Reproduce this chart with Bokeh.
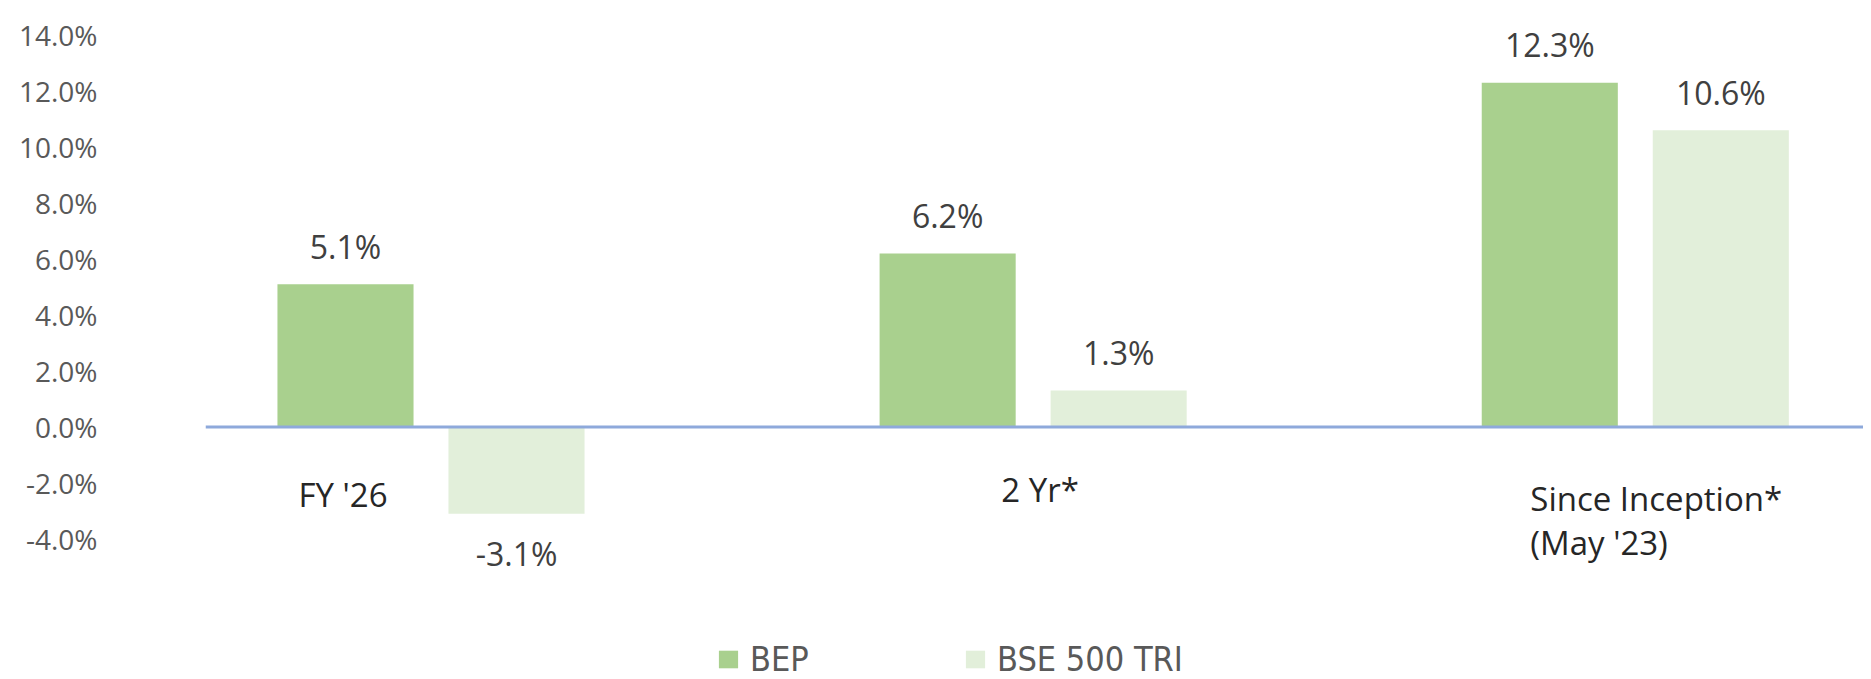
from bokeh.plotting import figure
from bokeh.models import ColumnDataSource, FixedTicker, Span, Legend, LegendItem, Range1d
from bokeh.core.properties import value
from bokeh.embed import file_html
from bokeh.resources import INLINE

# ---- data ----
categories = ["FY '26", "2 Yr*", "Since Inception*\n(May '23)"]
bep = [5.1, 6.2, 12.3]
bse = [-3.1, 1.3, 10.6]
series_names = ["BEP", "BSE 500 TRI"]
y_ticks = [-4, -2, 0, 2, 4, 6, 8, 10, 12, 14]
y_tick_labels = ["-4.0%", "-2.0%", "0.0%", "2.0%", "4.0%", "6.0%", "8.0%", "10.0%", "12.0%", "14.0%"]

# ---- styles ----
C_BEP = "#A9D08E"
C_BSE = "#E2EFDA"
C_ZERO = "#8EA9DB"
OFF = 0.142
BAR_W = 0.226

idx = list(range(len(categories)))

p = figure(width=1863, height=679,
           x_range=Range1d(-0.3745, 2.379), y_range=Range1d(-9.02, 14.95),
           output_backend="svg", toolbar_location=None, x_axis_location=None,
           min_border_left=205, min_border_right=0, min_border_top=8, min_border_bottom=0)
p.outline_line_color = None
p.xgrid.visible = False
p.ygrid.visible = False
p.background_fill_color = "white"
p.border_fill_color = "white"

ax = p.yaxis[0]
ax.ticker = FixedTicker(ticks=y_ticks)
ax.major_label_overrides = {t: l for t, l in zip(y_ticks, y_tick_labels)}
ax.axis_line_color = None
ax.major_tick_line_color = None
ax.minor_tick_line_color = None
ax.major_tick_out = 0
ax.major_tick_in = 0
ax.major_label_standoff = 108
ax.major_label_text_font = "Open Sans"
ax.major_label_text_font_size = "28px"
ax.major_label_text_color = "#595959"

src_bep = ColumnDataSource(dict(x=[i - OFF for i in idx], top=bep,
                                lab=[f"{v:.1f}%" for v in bep],
                                yo=[-38 if v >= 0 else 40 for v in bep]))
src_bse = ColumnDataSource(dict(x=[i + OFF for i in idx], top=bse,
                                lab=[f"{v:.1f}%" for v in bse],
                                yo=[-38 if v >= 0 else 40 for v in bse]))

r_bep = p.vbar(x="x", top="top", bottom=0, width=BAR_W, source=src_bep,
               fill_color=C_BEP, line_color=None)
r_bse = p.vbar(x="x", top="top", bottom=0, width=BAR_W, source=src_bse,
               fill_color=C_BSE, line_color=None)

p.add_layout(Span(location=0, dimension="width", line_color=C_ZERO, line_width=3))

for s in (src_bep, src_bse):
    p.text(x="x", y="top", text="lab", source=s, y_offset="yo",
           text_align="center", text_baseline="alphabetic",
           text_font=value("Open Sans"), text_font_size="32px", text_color="#404040")

# category labels
cat_src_c = ColumnDataSource(dict(x=idx[:2], y=[0, 0], text=categories[:2],
                                  xo=[-88, 7], yo=[45, 40]))
p.text(x="x", y="y", text="text", source=cat_src_c, x_offset="xo", y_offset="yo",
       text_align="center", text_baseline="top",
       text_font=value("Open Sans"), text_font_size="33px", text_color="#262626")
cat_src_l = ColumnDataSource(dict(x=idx[2:], y=[0], text=categories[2:],
                                  xo=[-105], yo=[49]))
p.text(x="x", y="y", text="text", source=cat_src_l, x_offset="xo", y_offset="yo",
       text_align="left", text_baseline="top", text_line_height=0.979,
       text_font=value("Open Sans"), text_font_size="33px", text_color="#262626")

# legends
for r, name, xloc in ((r_bep, series_names[0], 511), (r_bse, series_names[1], 758)):
    lg = Legend(items=[LegendItem(label=name, renderers=[r])], location=(xloc, 0),
                orientation="horizontal", padding=0, margin=0, spacing=0,
                glyph_width=24, glyph_height=22, label_standoff=10,
                border_line_color=None, background_fill_alpha=0,
                label_text_font="DejaVu Sans Condensed", label_text_font_size="34px",
                label_text_color="#595959")
    p.add_layout(lg)

open("out.html", "w").write(file_html(p, INLINE))
